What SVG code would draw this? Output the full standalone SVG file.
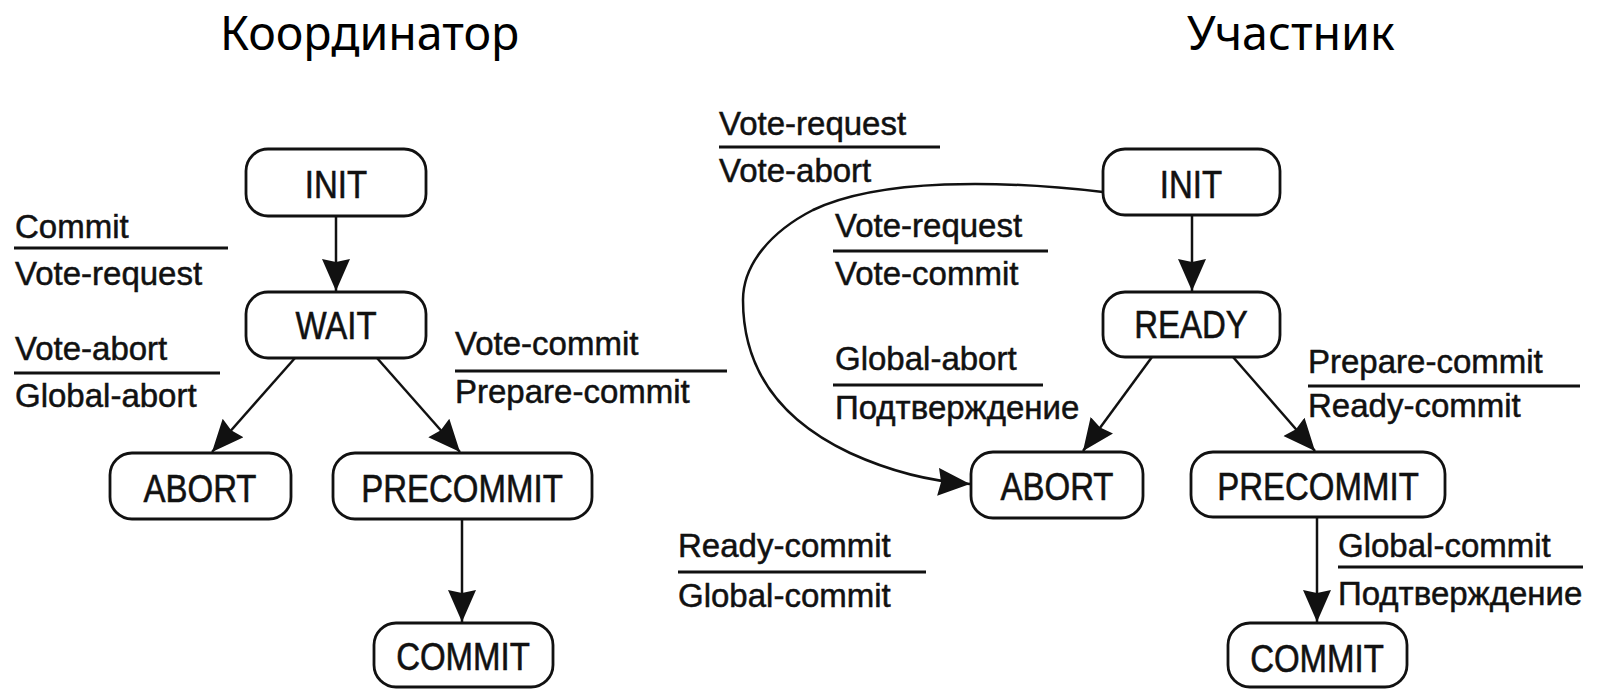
<svg xmlns="http://www.w3.org/2000/svg" width="1606" height="689" viewBox="0 0 1606 689">
  <style>
    .title { font-family: "Noto Sans", "Open Sans", sans-serif; font-size: 46.5px; fill: #000; }
    .node rect { fill: #fff; stroke: #111; stroke-width: 2.8; }
    .node text { font-family: "Liberation Sans", Arial, sans-serif; font-size: 33px; fill: #111; stroke: #111; stroke-width: 0.5; text-anchor: middle; }
    .lbl { font-family: "Liberation Sans", Arial, sans-serif; font-size: 33px; fill: #111; stroke: #111; stroke-width: 0.5; }
    .bar { stroke: #111; stroke-width: 2.8; }
    .edge { fill: none; stroke: #111; stroke-width: 2.5; marker-end: url(#head); }
  </style>
  <defs>
    <marker id="head" markerUnits="userSpaceOnUse" markerWidth="36" markerHeight="30" refX="32" refY="14" orient="auto">
      <path d="M0,0 L32,14 L0,28 L3,14 z" fill="#111"/>
    </marker>
  </defs>

  <rect width="1606" height="689" fill="#fff"/>

  <!-- column titles -->
  <text class="title" x="220" y="50">Координатор</text>
  <text class="title" x="1187" y="50">Участник</text>

  <!-- coordinator states -->
  <g id="c-init" class="node"><rect x="246" y="149" width="180" height="67" rx="22"/><text transform="translate(336,198) scale(1,1.15)">INIT</text></g>
  <g id="c-wait" class="node"><rect x="246" y="292" width="180" height="66" rx="22"/><text transform="translate(336,339) scale(1,1.15)">WAIT</text></g>
  <g id="c-abort" class="node"><rect x="110" y="453" width="181" height="66" rx="22"/><text transform="translate(200,502) scale(1,1.15)">ABORT</text></g>
  <g id="c-precommit" class="node"><rect x="333" y="453" width="259" height="66" rx="22"/><text transform="translate(462,502) scale(1,1.15)">PRECOMMIT</text></g>
  <g id="c-commit" class="node"><rect x="374" y="623" width="179" height="64" rx="22"/><text transform="translate(463,670) scale(1,1.15)">COMMIT</text></g>

  <!-- participant states -->
  <g id="p-init" class="node"><rect x="1103" y="149" width="177" height="66" rx="22"/><text transform="translate(1191,198) scale(1,1.15)">INIT</text></g>
  <g id="p-ready" class="node"><rect x="1103" y="292" width="177" height="65" rx="22"/><text transform="translate(1191,338) scale(1,1.15)">READY</text></g>
  <g id="p-abort" class="node"><rect x="971" y="452" width="172" height="66" rx="22"/><text transform="translate(1057,500) scale(1,1.15)">ABORT</text></g>
  <g id="p-precommit" class="node"><rect x="1191" y="452" width="254" height="65" rx="22"/><text transform="translate(1318,500) scale(1,1.15)">PRECOMMIT</text></g>
  <g id="p-commit" class="node"><rect x="1228" y="623" width="179" height="64" rx="22"/><text transform="translate(1317,672) scale(1,1.15)">COMMIT</text></g>

  <!-- transitions -->
  <g id="edges">
    <path class="edge" d="M336,216 L336,291"/>
    <path class="edge" d="M295,358 L212,452"/>
    <path class="edge" d="M377,358 L460,452"/>
    <path class="edge" d="M462,519 L462,622"/>
    <path class="edge" d="M1192,215 L1192,291"/>
    <path class="edge" d="M1152,357 L1083,451"/>
    <path class="edge" d="M1233,357 L1315,451"/>
    <path class="edge" d="M1317,517 L1317,622"/>
    <path class="edge" d="M1103,192 C1000,180 880,178 813,210 C770,232 743,265 743,300 C743,370 780,420 850,453 C885,469 925,481 970,484"/>
  </g>

  <!-- transition labels: event over action -->
  <g id="labels">
    <text class="lbl" x="15" y="238">Commit</text>
    <line class="bar" x1="14" y1="248" x2="228" y2="248"/>
    <text class="lbl" x="15" y="285">Vote-request</text>

    <text class="lbl" x="15" y="360">Vote-abort</text>
    <line class="bar" x1="14" y1="373" x2="220" y2="373"/>
    <text class="lbl" x="15" y="407">Global-abort</text>

    <text class="lbl" x="455" y="355">Vote-commit</text>
    <line class="bar" x1="455" y1="371" x2="727" y2="371"/>
    <text class="lbl" x="455" y="403">Prepare-commit</text>

    <text class="lbl" x="678" y="557">Ready-commit</text>
    <line class="bar" x1="678" y1="572" x2="926" y2="572"/>
    <text class="lbl" x="678" y="607">Global-commit</text>

    <text class="lbl" x="719" y="135">Vote-request</text>
    <line class="bar" x1="719" y1="147" x2="940" y2="147"/>
    <text class="lbl" x="719" y="182">Vote-abort</text>

    <text class="lbl" x="835" y="237">Vote-request</text>
    <line class="bar" x1="833" y1="251" x2="1048" y2="251"/>
    <text class="lbl" x="835" y="285">Vote-commit</text>

    <text class="lbl" x="835" y="370">Global-abort</text>
    <line class="bar" x1="833" y1="385" x2="1043" y2="385"/>
    <text class="lbl" x="835" y="419">Подтверждение</text>

    <text class="lbl" x="1308" y="373">Prepare-commit</text>
    <line class="bar" x1="1308" y1="386" x2="1580" y2="386"/>
    <text class="lbl" x="1308" y="417">Ready-commit</text>

    <text class="lbl" x="1338" y="557">Global-commit</text>
    <line class="bar" x1="1338" y1="567" x2="1583" y2="567"/>
    <text class="lbl" x="1338" y="605">Подтверждение</text>
  </g>
</svg>
